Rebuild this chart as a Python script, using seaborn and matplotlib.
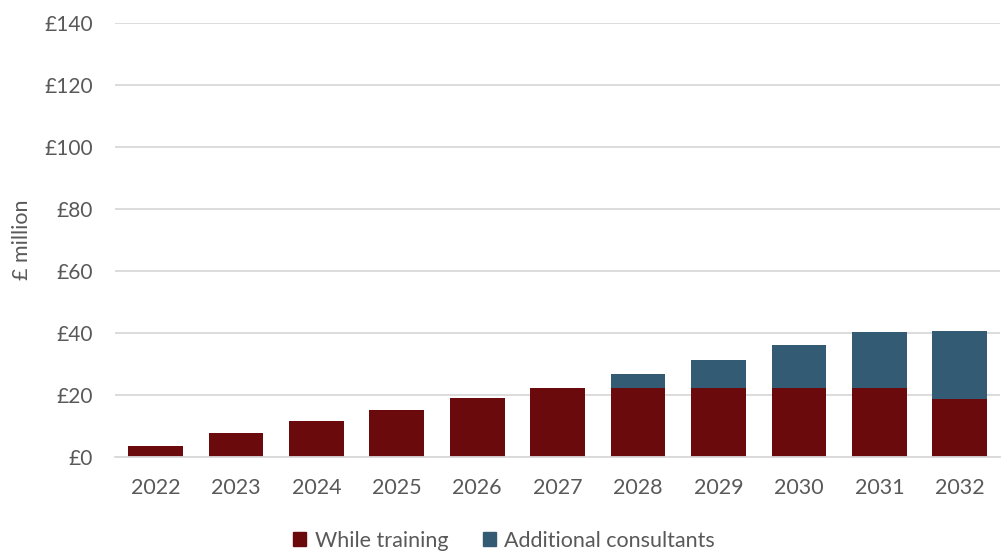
import numpy as np
import pandas as pd
import seaborn as sns
import matplotlib.pyplot as plt
from matplotlib.patches import Patch

years = ["2022", "2023", "2024", "2025", "2026", "2027", "2028", "2029", "2030", "2031", "2032"]
while_training = [3.6, 7.6, 11.5, 15.2, 18.9, 22.3, 22.3, 22.3, 22.3, 22.3, 18.5]
additional = [0, 0, 0, 0, 0, 0, 4.5, 9.1, 13.7, 17.9, 22.1]

df = pd.DataFrame({"year": years, "training": while_training, "additional": additional})
df["total"] = df["training"] + df["additional"]

red = "#6B0A0C"
blue = "#335C74"
grey = "#595959"

sns.set_style("white")
plt.rcParams["font.family"] = ["Lato", "DejaVu Sans"]

fig = plt.figure(figsize=(10.02, 5.53), dpi=100)
ax = fig.add_axes([0.115, 0.174, 0.883, 0.784])

sns.barplot(data=df, x="year", y="total", color=blue, width=0.68, ax=ax, zorder=3,
            saturation=1, linewidth=0)
sns.barplot(data=df, x="year", y="training", color=red, width=0.68, ax=ax, zorder=4,
            saturation=1, linewidth=0)

ax.set_ylim(0, 140)
ax.set_xlim(-0.5, len(years) - 0.5)
ax.set_yticks(np.arange(0, 141, 20))
ax.set_yticklabels([f"£{v}" for v in range(0, 141, 20)])
ax.yaxis.grid(True, color="#D9D9D9", linewidth=1.3, zorder=0)
ax.set_axisbelow(True)

for s in ["top", "right", "left"]:
    ax.spines[s].set_visible(False)
ax.spines["bottom"].set_color("#D9D9D9")
ax.spines["bottom"].set_linewidth(1.3)
ax.spines["bottom"].set_zorder(5)

ax.set_xticks(np.arange(-0.5, len(years), 1), minor=True)
ax.tick_params(axis="x", which="minor", length=6, color="#D9D9D9", width=1.3)
ax.tick_params(axis="x", which="major", length=0, pad=15, labelsize=15.5, labelcolor=grey)
ax.tick_params(axis="y", length=0, pad=16, labelsize=15, labelcolor=grey)

ax.set_xlabel("")
ax.set_ylabel("£ million", fontsize=15.5, color=grey, labelpad=9)

handles = [Patch(color=red, label="While training"), Patch(color=blue, label="Additional consultants")]
fig.legend(handles=handles, loc="center", bbox_to_anchor=(0.503, 0.022), ncol=2, frameon=False,
           fontsize=15.5, labelcolor=grey, handlelength=0.6, handleheight=0.6, handletextpad=0.4,
           columnspacing=1.6)

fig.savefig("out.png", dpi=100)
